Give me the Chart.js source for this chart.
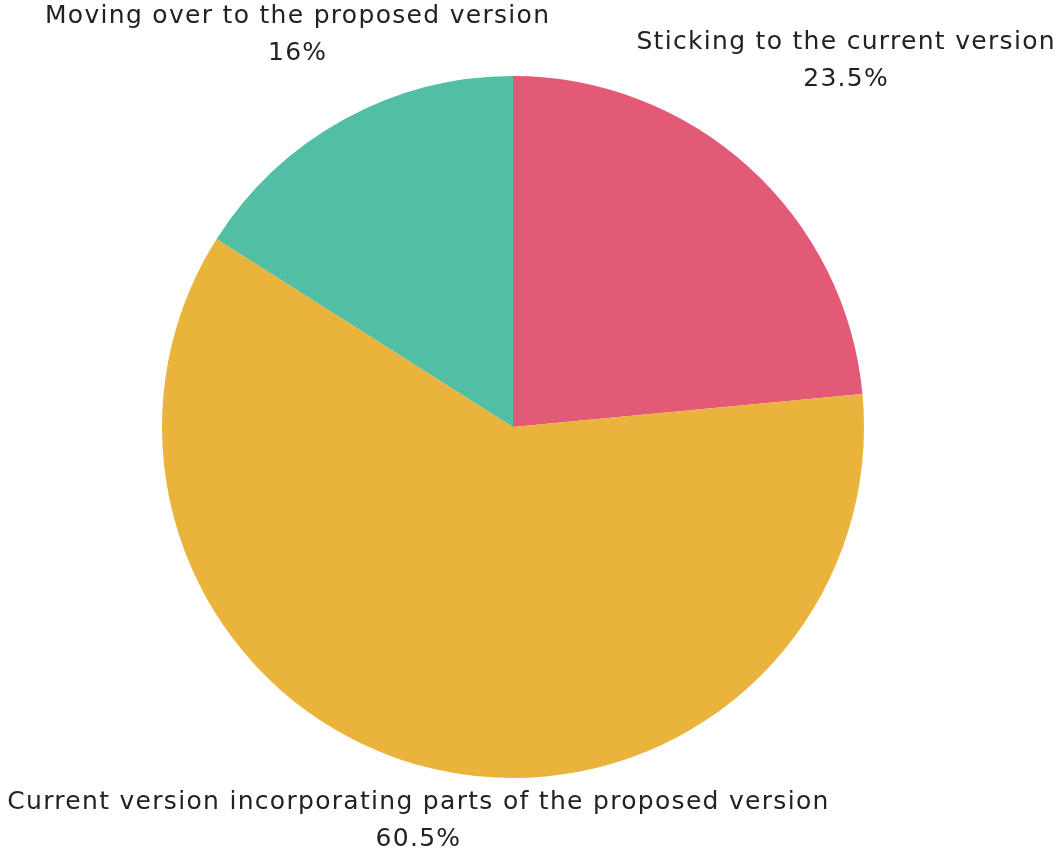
<!DOCTYPE html>
<html>
<head>
<meta charset="utf-8">
<script src="https://cdn.jsdelivr.net/npm/chart.js@4"></script>
<style>
  html, body { margin: 0; padding: 0; background: #fff; }
  #wrap { width: 1058px; height: 856px; }
</style>
</head>
<body>
<div id="wrap"><canvas id="grafico"></canvas></div>
<script>
const categorias = ['Sticking to the current version', 'Current version incorporating parts of the proposed version', 'Moving over to the proposed version'];
const valores = [23.5, 60.5, 16];
const cores = ['#e35a76', '#e9b33c', '#52bea4'];

const fonteRotulo = '25px "DejaVu Sans", sans-serif';

// rotulos fora da pizza, empurrados ao longo do raio ate a borda do canvas
const rotulosPlugin = {
  id: 'rotulos',
  afterDraw(chart) {
    const ctx = chart.ctx;
    const meta = chart.getDatasetMeta(0);
    const W = chart.width, H = chart.height;
    const linha = 37;
    ctx.save();
    ctx.font = fonteRotulo;
    ctx.letterSpacing = '1.3px';
    ctx.fillStyle = '#222';
    ctx.textAlign = 'center';
    ctx.textBaseline = 'middle';
    meta.data.forEach((arc, i) => {
      const p = arc.getProps(['x', 'y', 'startAngle', 'endAngle', 'outerRadius'], true);
      const ang = (p.startAngle + p.endAngle) / 2;
      const texto = categorias[i];
      const pct = valores[i] + '%';
      const larg = Math.max(ctx.measureText(texto).width, ctx.measureText(pct).width);
      const alt = linha * 2;
      let d = p.outerRadius;
      for (let r = p.outerRadius * 2; r > p.outerRadius; r -= 1) {
        const cx = p.x + Math.cos(ang) * r;
        const cy = p.y + Math.sin(ang) * r;
        if (cx - larg / 2 >= 2 && cx + larg / 2 <= W - 2 && cy - alt / 2 >= -2 && cy + alt / 2 <= H + 2) {
          d = r;
          break;
        }
      }
      const cx = p.x + Math.cos(ang) * d;
      const cy = p.y + Math.sin(ang) * d;
      ctx.fillText(texto, cx, cy - linha / 2);
      ctx.fillText(pct, cx, cy + linha / 2);
    });
    ctx.restore();
  }
};

new Chart(document.getElementById('grafico'), {
  type: 'pie',
  data: {
    labels: categorias,
    datasets: [{
      data: valores,
      backgroundColor: cores,
      borderWidth: 0
    }]
  },
  options: {
    responsive: true,
    maintainAspectRatio: false,
    animation: false,
    layout: { padding: { top: 76, bottom: 78, left: 162, right: 194 } },
    plugins: {
      legend: { display: false },
      tooltip: { enabled: false }
    }
  },
  plugins: [rotulosPlugin]
});
</script>
</body>
</html>
